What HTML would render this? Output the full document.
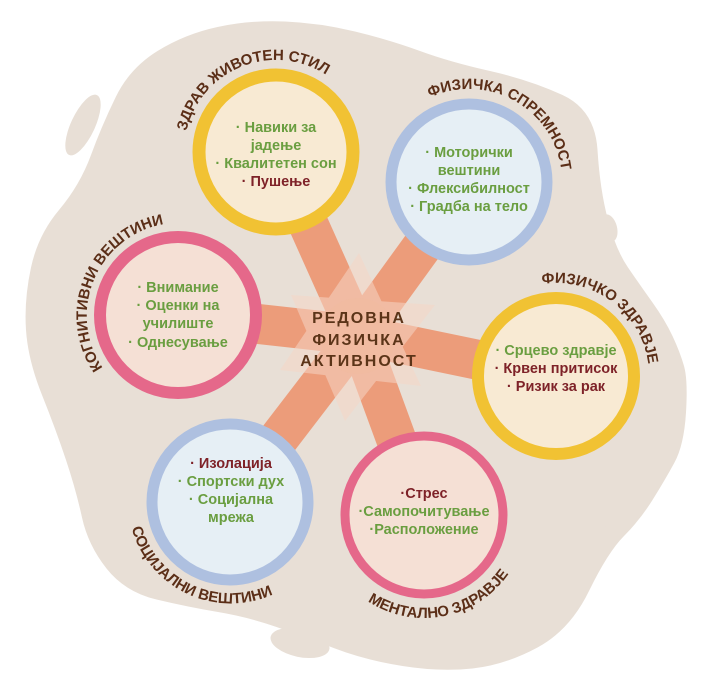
<!DOCTYPE html>
<html><head><meta charset="utf-8"><style>
html,body{margin:0;padding:0;background:#fff;}
svg{display:block;}
text{font-family:"Liberation Sans",sans-serif;font-weight:bold;}
.g{fill:#6a9e40;}
.r{fill:#7e2228;}
.lb{fill:#5b2e17;font-size:15px;}
</style></head><body>
<svg width="701" height="694" viewBox="0 0 701 694" xmlns="http://www.w3.org/2000/svg">
<defs>
<path id="a1" d="M190.7,186.5 A92,92 0 0 1 361.3,117.5"/>
<path id="a2" d="M387.6,136.9 A93,93 0 0 1 550.4,227.1"/>
<path id="a3" d="M141.7,400.6 A93,93 0 0 1 214.3,229.4"/>
<path id="a4" d="M481.7,320.0 A93,93 0 0 1 630.3,432.0"/>
<path id="a5" d="M136.7,458.4 A103,103 0 0 0 323.3,545.6"/>
<path id="a6" d="M322.9,534.7 A103,103 0 0 0 525.1,495.3"/>
</defs>
<!-- blob -->
<path fill="#e8dfd6" d="M217.5,27 Q250,20 285,21.5 Q320,23 355,31.5 Q390,40 420,51 Q450,62 490,71 Q530,80 562.5,95 Q595,110 597.5,150 Q600,190 608,220 Q616,250 628,267.5 Q640,285 652.5,302.5 Q665,320 672.5,336 Q680,352 684,366 Q688,380 686,412.5 Q684,445 674.5,462.5 Q665,480 652.5,500 Q640,520 624,536 Q608,552 589,591 Q570,630 537.5,647.5 Q505,665 472.5,668.5 Q440,672 402.5,666 Q365,660 335,648.5 Q305,637 276.5,627 Q248,617 218,612 Q188,607 156.5,599.5 Q125,592 106.5,568.5 Q88,545 82,517.5 Q76,490 66,460 Q56,430 42,395 Q28,360 26,330 Q24,300 31,267.5 Q38,235 59,210 Q80,185 91,155 Q102,125 116,96.5 Q130,68 157.5,51 Q185,34 217.5,27 Z"/>
<ellipse cx="83" cy="125" rx="12" ry="33" transform="rotate(25 83 125)" fill="#e8dfd6"/>
<rect x="73" y="435" width="10" height="38" rx="5" fill="#e8dfd6"/>
<ellipse cx="609" cy="228" rx="8" ry="14" transform="rotate(-15 609 228)" fill="#e8dfd6"/>
<path d="M632,485 Q640,495 620,530 Q608,550 600,540 Q598,525 618,505 Z" fill="#e8dfd6" stroke="#e8dfd6" stroke-width="6" stroke-linejoin="round"/>
<ellipse cx="300" cy="643" rx="30" ry="14" transform="rotate(12 300 643)" fill="#e8dfd6"/>
<!-- bars -->
<g stroke="#ec9c7a" stroke-width="40">
<line x1="358" y1="335" x2="276" y2="152"/>
<line x1="358" y1="335" x2="469" y2="182"/>
<line x1="358" y1="335" x2="178" y2="315"/>
<line x1="358" y1="335" x2="556" y2="376"/>
<line x1="358" y1="335" x2="230" y2="502"/>
<line x1="358" y1="335" x2="424" y2="515"/>
</g>
<!-- star -->
<g opacity="0.55" fill="#f6d6c6">
<polygon points="359,253 280,370 421,386"/>
<polygon points="291,295 435,305 345,421"/>
</g>
<circle cx="358" cy="336" r="38" fill="#f1bba0" opacity="0.7"/>
<!-- circles -->
<circle cx="276" cy="152" r="77" fill="#f8ead3" stroke="#f1c233" stroke-width="13"/>
<circle cx="469" cy="182" r="78" fill="#e6eff5" stroke="#aec0e0" stroke-width="11"/>
<circle cx="178" cy="315" r="78" fill="#f5e0d5" stroke="#e5688a" stroke-width="12"/>
<circle cx="556" cy="376" r="78" fill="#f8ead3" stroke="#f1c233" stroke-width="12"/>
<circle cx="230" cy="502" r="78" fill="#e6eff5" stroke="#aec0e0" stroke-width="11"/>
<circle cx="424" cy="515" r="79" fill="#f5e0d5" stroke="#e5688a" stroke-width="9"/>
<!-- center text -->
<g fill="#5b3418" font-size="16" text-anchor="middle" letter-spacing="2">
<text x="359" y="323">РЕДОВНА</text>
<text x="359" y="345">ФИЗИЧКА</text>
<text x="359" y="366">АКТИВНОСТ</text>
</g>
<!-- content -->
<g font-size="14.5" text-anchor="middle">
<text x="276" y="132" class="g">· Навики за</text>
<text x="276" y="150" class="g">јадење</text>
<text x="276" y="168" class="g">· Квалитетен сон</text>
<text x="276" y="186" class="r">· Пушење</text>

<text x="469" y="157" class="g">· Моторички</text>
<text x="469" y="175" class="g">вештини</text>
<text x="469" y="193" class="g">· Флексибилност</text>
<text x="469" y="211" class="g">· Градба на тело</text>

<text x="178" y="292" class="g">· Внимание</text>
<text x="178" y="310" class="g">· Оценки на</text>
<text x="178" y="328" class="g">училиште</text>
<text x="178" y="347" class="g">· Однесување</text>

<text x="556" y="355" class="g">· Срцево здравје</text>
<text x="556" y="373" class="r">· Крвен притисок</text>
<text x="556" y="391" class="r">· Ризик за рак</text>

<text x="231" y="468" class="r">· Изолација</text>
<text x="231" y="486" class="g">· Спортски дух</text>
<text x="231" y="504" class="g">· Социјална</text>
<text x="231" y="522" class="g">мрежа</text>

<text x="424" y="498" class="r">·Стрес</text>
<text x="424" y="516" class="g">·Самопочитување</text>
<text x="424" y="534" class="g">·Расположение</text>
</g>
<!-- curved labels -->
<text class="lb" text-anchor="middle"><textPath href="#a1" startOffset="50%">ЗДРАВ ЖИВОТЕН СТИЛ</textPath></text>
<text class="lb" text-anchor="middle"><textPath href="#a2" startOffset="50%">ФИЗИЧКА СПРЕМНОСТ</textPath></text>
<text class="lb" text-anchor="middle"><textPath href="#a3" startOffset="50%">КОГНИТИВНИ ВЕШТИНИ</textPath></text>
<text class="lb" text-anchor="middle"><textPath href="#a4" startOffset="50%">ФИЗИЧКО ЗДРАВЈЕ</textPath></text>
<text class="lb" text-anchor="middle"><textPath href="#a5" startOffset="50%">СОЦИЈАЛНИ ВЕШТИНИ</textPath></text>
<text class="lb" text-anchor="middle"><textPath href="#a6" startOffset="50%">МЕНТАЛНО ЗДРАВЈЕ</textPath></text>
</svg>
</body></html>
